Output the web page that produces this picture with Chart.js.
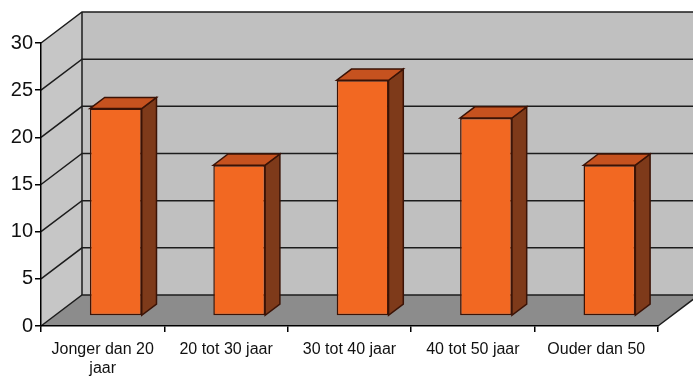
<!DOCTYPE html>
<html>
<head>
<meta charset="utf-8">
<script src="https://cdn.jsdelivr.net/npm/chart.js@4"></script>
<style>
  html, body { margin: 0; padding: 0; background: #fff; }
</style>
</head>
<body>
<canvas id="leeftijd" width="693" height="380"></canvas>
<script>
const categories = [['Jonger dan 20', 'jaar'], '20 tot 30 jaar', '30 tot 40 jaar', '40 tot 50 jaar', 'Ouder dan 50'];
const aantallen = [22, 16, 25, 21, 16];
const yMin = 0, yMax = 30, yStep = 5;

// depth of the 3d box (pixels) and where the bars sit inside it
const DEPTH_X = 41, DEPTH_Y = -31;
const BAR_FRONT = 0.32, BAR_BACK = 0.68;

const FONT = "'Liberation Sans', Arial, sans-serif";

function poly(ctx, pts, fill, stroke, lw) {
    ctx.beginPath();
    ctx.moveTo(pts[0][0], pts[0][1]);
    for (let i = 1; i < pts.length; i++) ctx.lineTo(pts[i][0], pts[i][1]);
    ctx.closePath();
    if (fill) { ctx.fillStyle = fill; ctx.fill(); }
    if (stroke) { ctx.strokeStyle = stroke; ctx.lineWidth = lw || 1; ctx.stroke(); }
}

const box3d = {
    id: 'box3d',
    beforeDraw(chart) {
        const ctx = chart.ctx;
        const a = chart.chartArea;
        const y = chart.scales.y;
        const L = a.left, R = a.right;
        const y0 = y.getPixelForValue(yMin), yT = y.getPixelForValue(yMax);
        const dx = DEPTH_X, dy = DEPTH_Y;
        ctx.save();
        // left wall, back wall, floor
        poly(ctx, [[L, yT], [L + dx, yT + dy], [L + dx, y0 + dy], [L, y0]], '#c6c6c6');
        poly(ctx, [[L + dx, yT + dy], [R + dx, yT + dy], [R + dx, y0 + dy], [L + dx, y0 + dy]], '#c0c0c0');
        poly(ctx, [[L, y0], [R, y0], [R + dx, y0 + dy], [L + dx, y0 + dy]], '#8c8c8c');
        // gridlines running over the left wall and the back wall
        ctx.strokeStyle = '#1c1c1c';
        ctx.lineWidth = 1.5;
        for (let v = yMin; v <= yMax; v += yStep) {
            const py = y.getPixelForValue(v);
            ctx.beginPath();
            ctx.moveTo(L, py);
            ctx.lineTo(L + dx, py + dy);
            ctx.lineTo(R + dx, py + dy);
            ctx.stroke();
        }
        ctx.beginPath();
        ctx.moveTo(L + dx, yT + dy);
        ctx.lineTo(L + dx, y0 + dy);
        ctx.moveTo(R, y0);
        ctx.lineTo(R + dx, y0 + dy);
        ctx.stroke();
        ctx.restore();
    },
    beforeDatasetsDraw(chart) {
        const ctx = chart.ctx;
        const fx = DEPTH_X * BAR_FRONT, fy = DEPTH_Y * BAR_FRONT;
        const bx = DEPTH_X * BAR_BACK, by = DEPTH_Y * BAR_BACK;
        ctx.save();
        chart.getDatasetMeta(0).data.forEach(bar => {
            const p = bar.getProps(['x', 'y', 'base', 'width'], true);
            const l = p.x - p.width / 2, r = p.x + p.width / 2;
            // side face
            poly(ctx, [[r + fx, p.y + fy], [r + bx, p.y + by], [r + bx, p.base + by], [r + fx, p.base + fy]],
                '#7e3a1a', '#3b1306', 1.5);
            // top face
            poly(ctx, [[l + fx, p.y + fy], [r + fx, p.y + fy], [r + bx, p.y + by], [l + bx, p.y + by]],
                '#c6521f', '#3b1306', 1.5);
        });
        ctx.restore();
        // front faces are drawn by chart.js, shifted into the box
        ctx.save();
        ctx.translate(fx, fy);
    },
    afterDatasetsDraw(chart) {
        chart.ctx.restore();
    }
};

new Chart(document.getElementById('leeftijd'), {
    type: 'bar',
    data: {
        labels: categories,
        datasets: [{
            data: aantallen,
            backgroundColor: '#f26822',
            borderColor: '#3b1306',
            borderWidth: 1.5,
            borderSkipped: false,
            categoryPercentage: 1,
            barPercentage: 0.42
        }]
    },
    options: {
        responsive: false,
        animation: false,
        devicePixelRatio: 1,
        layout: { padding: { top: 43, right: 35, left: 0, bottom: 0 } },
        plugins: { legend: { display: false }, tooltip: { enabled: false } },
        scales: {
            x: {
                grid: { offset: true, drawOnChartArea: false, drawTicks: true, tickLength: 6, color: '#000', lineWidth: 1.5 },
                border: { display: true, color: '#000', width: 1.5 },
                ticks: { color: '#111', font: { family: FONT, size: 16 }, maxRotation: 0, autoSkip: false, padding: 8 },
                afterFit: s => { s.height = 54; }
            },
            y: {
                min: yMin,
                max: yMax,
                grid: { drawOnChartArea: false, drawTicks: true, tickLength: 6, color: '#000', lineWidth: 1.5 },
                border: { display: true, color: '#000', width: 1.5 },
                ticks: { stepSize: yStep, color: '#111', font: { family: FONT, size: 20 }, padding: 2 },
                afterFit: s => { s.width = 41; }
            }
        }
    },
    plugins: [box3d]
});
</script>
</body>
</html>
